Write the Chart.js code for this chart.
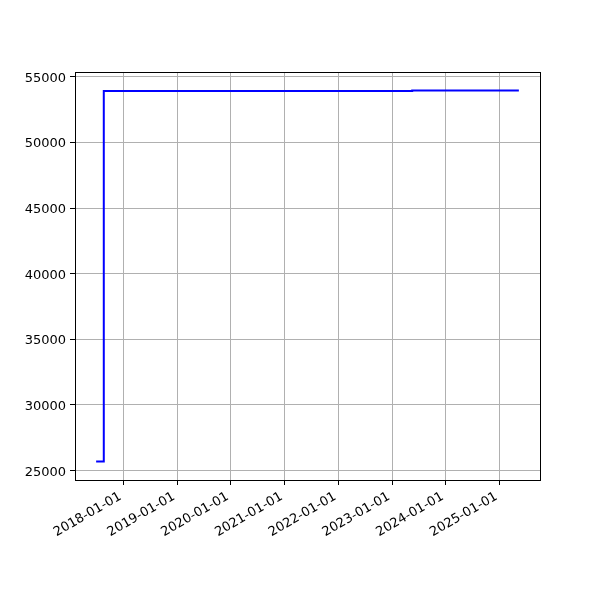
<!DOCTYPE html>
<html>
<head>
<meta charset="utf-8">
<script src="https://cdn.jsdelivr.net/npm/chart.js@4"></script>
<style>
html,body{margin:0;padding:0;background:#fff;}
#wrap{width:600px;height:600px;}
</style>
</head>
<body>
<div id="wrap"><canvas id="c" width="600" height="600"></canvas></div>
<script>
// Data
const dates = ['2017-06-30', '2017-08-21', '2023-05-18', '2025-05-12'];
const values = [25700, 53910, 53950, 53950];
const yTicks = [25000, 30000, 35000, 40000, 45000, 50000, 55000];
const xTickYears = [2018, 2019, 2020, 2021, 2022, 2023, 2024, 2025];

function toMs(s) { const p = s.split('-').map(Number); return Date.UTC(p[0], p[1] - 1, p[2]); }
function fmt(ms) {
  const d = new Date(ms);
  const pad = n => String(n).padStart(2, '0');
  return d.getUTCFullYear() + '-' + pad(d.getUTCMonth() + 1) + '-' + pad(d.getUTCDate());
}
const pts = dates.map((d, i) => ({ x: toMs(d), y: values[i] }));
const xs = pts.map(p => p.x), ys = pts.map(p => p.y);
const xMinD = Math.min(...xs), xMaxD = Math.max(...xs);
const yMinD = Math.min(...ys), yMaxD = Math.max(...ys);
const xm = (xMaxD - xMinD) * 0.05, ym = (yMaxD - yMinD) * 0.05;

const frame = {
  id: 'frame',
  afterDraw(chart) {
    const a = chart.chartArea, ctx = chart.ctx;
    ctx.save();
    ctx.strokeStyle = '#000';
    ctx.lineWidth = 1;
    ctx.strokeRect(Math.round(a.left) + 0.5, Math.round(a.top) + 0.5, Math.round(a.right - a.left), Math.round(a.bottom - a.top));
    ctx.restore();
  }
};

const font = { family: 'DejaVu Sans', size: 13 };

new Chart(document.getElementById('c'), {
  type: 'line',
  data: {
    datasets: [{
      data: pts,
      borderColor: '#0000ff',
      borderWidth: 2,
      pointRadius: 0,
      stepped: 'before',
      fill: false
    }]
  },
  options: {
    responsive: false,
    animation: false,
    devicePixelRatio: 1,
    layout: { padding: { top: 72, right: 60, left: 0, bottom: 0 } },
    plugins: { legend: { display: false }, tooltip: { enabled: false } },
    scales: {
      x: {
        type: 'linear',
        min: xMinD - xm,
        max: xMaxD + xm,
        afterBuildTicks(scale) { scale.ticks = xTickYears.map(y => ({ value: Date.UTC(y, 0, 1) })); },
        afterFit(scale) { scale.height = 120; },
        ticks: {
          callback: v => fmt(v),
          minRotation: 30, maxRotation: 30,
          color: '#000', font: font, padding: 4, labelOffset: -3,
          autoSkip: false
        },
        grid: { color: '#b0b0b0', lineWidth: 1, tickColor: '#000', tickLength: 5, drawTicks: true },
        border: { color: '#000', width: 1 }
      },
      y: {
        type: 'linear',
        min: yMinD - ym,
        max: yMaxD + ym,
        afterBuildTicks(scale) { scale.ticks = yTicks.map(v => ({ value: v })); },
        afterFit(scale) { scale.width = 75; },
        ticks: { color: '#000', font: font, padding: 4, labelOffset: 1.5, callback: v => String(v) },
        grid: { color: '#b0b0b0', lineWidth: 1, tickColor: '#000', tickLength: 5 },
        border: { color: '#000', width: 1 }
      }
    }
  },
  plugins: [frame]
});
</script>
</body>
</html>
